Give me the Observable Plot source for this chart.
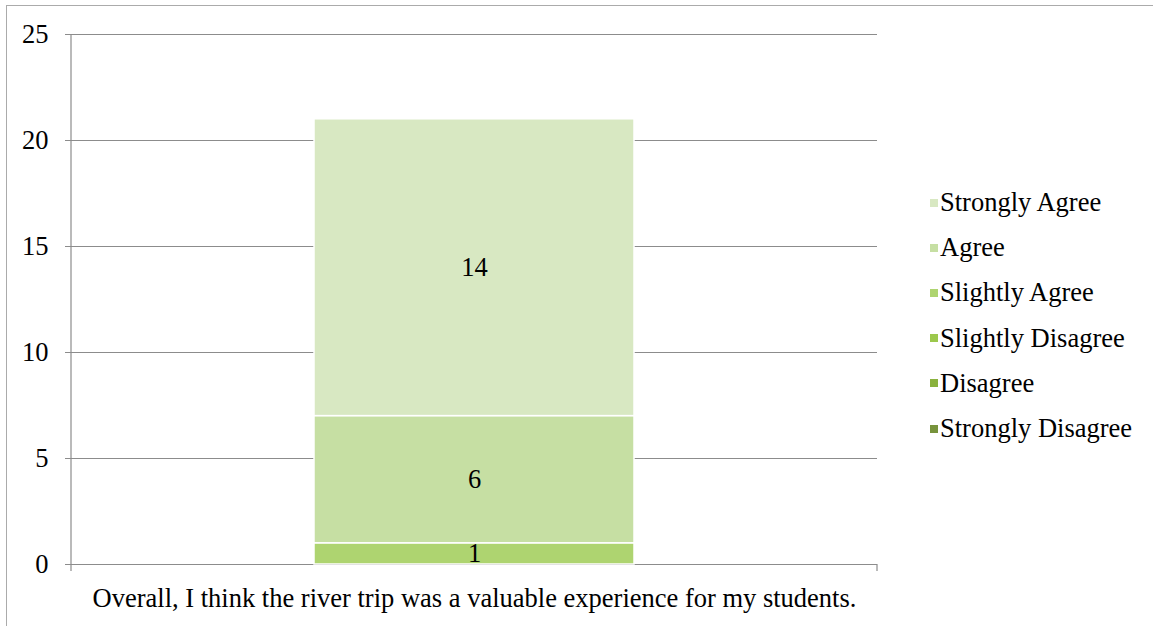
<!DOCTYPE html>
<html>
<head>
<meta charset="utf-8">
<script src="https://cdn.jsdelivr.net/npm/d3@7"></script>
<script src="https://cdn.jsdelivr.net/npm/@observablehq/plot@0.6"></script>
<style>
  html, body { margin: 0; padding: 0; background: #fff; }
  #wrap { position: relative; width: 1153px; height: 626px; overflow: hidden; font-family: "Liberation Serif", "Times New Roman", serif; }
  #border { position: absolute; left: 6px; top: 5px; width: 1160px; height: 640px; border-left: 1.5px solid #ababab; border-top: 1.5px solid #ababab; }
  #chart { position: absolute; left: 0; top: 0; }
  #legend { position: absolute; left: 930px; top: 180px; }
  .row { display: flex; align-items: center; height: 45.2px; font-size: 26.5px; color: #000; white-space: nowrap; }
  .sw { width: 8px; height: 8px; margin-right: 2px; }
</style>
</head>
<body>
<div id="wrap">
  <div id="border"></div>
  <div id="chart"></div>
  <div id="legend"></div>
</div>
<script>
const question = "Overall, I think the river trip was a valuable experience for my students.";
const responses = ["Strongly Disagree", "Disagree", "Slightly Disagree", "Slightly Agree", "Agree", "Strongly Agree"];
const counts = [0, 0, 0, 1, 6, 14];
const colors = ["#77933c", "#8ab23e", "#9cc84c", "#aed470", "#c6dfa3", "#d8e8c2"];
const yTicks = [0, 5, 10, 15, 20, 25];

const rows = responses.map((r, i) => ({question, response: r, count: counts[i]}));

const FS = 26.5;
const W = 900, H = 626;
const plot = Plot.plot({
  width: W, height: H,
  marginLeft: 71, marginRight: 23, marginTop: 34, marginBottom: 62,
  style: {fontFamily: "'Liberation Serif', 'Times New Roman', serif", fontSize: FS + "px", color: "#000", background: "transparent", overflow: "visible"},
  x: {domain: [question], padding: 0.4316, label: null},
  y: {domain: [0, 25], ticks: yTicks, label: null},
  color: {domain: responses, range: colors},
  marks: [
    Plot.ruleY(yTicks, {stroke: "#8c8c8c", strokeWidth: 1.2}),
    Plot.barY(rows, Plot.stackY({x: "question", y: "count", fill: "response", order: responses, stroke: "#fff", strokeWidth: 1.5})),
    Plot.text(rows, Plot.stackY({x: "question", y: "count", z: "response", order: responses, text: d => d.count > 0 ? String(d.count) : null, fill: "#000", fontSize: FS})),
    Plot.axisY({ticks: yTicks, tickSize: 6, tickPadding: 17, stroke: "#8c8c8c", label: null, fontSize: FS}),
    Plot.axisX({tickSize: 0, tickPadding: 24, label: null, fontSize: FS})
  ]
});
document.getElementById("chart").appendChild(plot);

// y-axis line at left edge and edge tick marks on x axis
const svg = d3.select(plot);
const y0 = plot.scale("y").apply(0), y25 = plot.scale("y").apply(25);
const xl = 71, xr = W - 23;
svg.append("line").attr("x1", xl).attr("x2", xl).attr("y1", y25).attr("y2", y0 + 7).attr("stroke", "#8c8c8c").attr("stroke-width", 1.2);
svg.append("line").attr("x1", xr).attr("x2", xr).attr("y1", y0).attr("y2", y0 + 7).attr("stroke", "#8c8c8c").attr("stroke-width", 1.2);

// legend
const leg = d3.select("#legend");
responses.slice().reverse().forEach(r => {
  const row = leg.append("div").attr("class", "row");
  row.append("div").attr("class", "sw").style("background", colors[responses.indexOf(r)]);
  row.append("span").text(r);
});
</script>
</body>
</html>
